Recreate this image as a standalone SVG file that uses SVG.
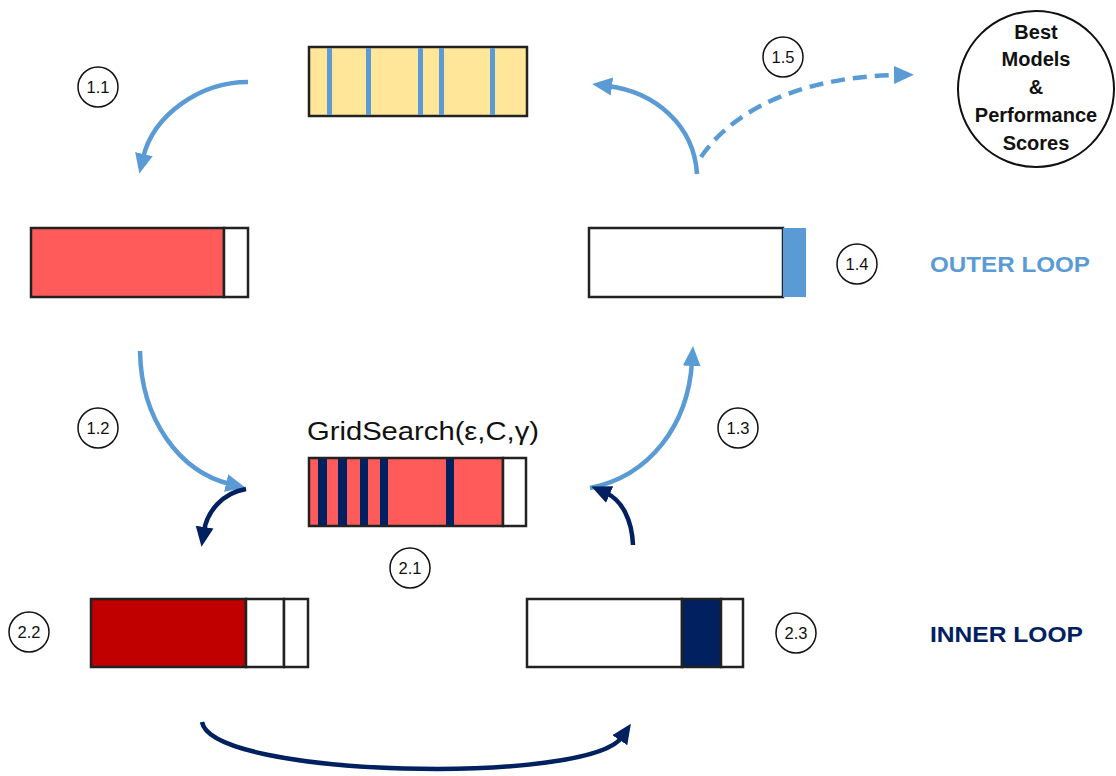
<svg xmlns="http://www.w3.org/2000/svg" width="1116" height="776" viewBox="0 0 1116 776">
<style>
.box{stroke:#222;stroke-width:2.5}
.lbl circle{fill:#fff;stroke:#111;stroke-width:1.5}
.lbl text{font-family:"Liberation Sans",Arial,sans-serif;font-size:16.5px;fill:#111;text-anchor:middle}
.lb{fill:none;stroke:#5B9BD5;stroke-width:4.5}
.nv{fill:none;stroke:#002060;stroke-width:4.5}
.big{font-family:"Liberation Sans",Arial,sans-serif;font-weight:bold;font-size:20px;fill:#111;text-anchor:middle}
</style>
<defs>
<marker id="ab" markerUnits="userSpaceOnUse" markerWidth="22" markerHeight="22" viewBox="0 0 22 22" refX="4" refY="11" orient="auto"><path d="M0,2 L20,11 L0,20 Z" fill="#5B9BD5"/></marker>
<marker id="an" markerUnits="userSpaceOnUse" markerWidth="22" markerHeight="22" viewBox="0 0 22 22" refX="4" refY="11" orient="auto"><path d="M0,2 L20,11 L0,20 Z" fill="#002060"/></marker>
</defs>
<rect width="1116" height="776" fill="#fff"/>

<g id="node-top">
<rect x="309" y="47" width="218" height="69" fill="#FFE699" class="box"/>
<g fill="#5B9BD5"><rect x="327" y="48" width="5" height="67"/><rect x="366" y="48" width="5" height="67"/><rect x="418" y="48" width="5" height="67"/><rect x="439" y="48" width="5" height="67"/><rect x="490" y="48" width="5" height="67"/></g>
</g>

<g id="node-left">
<rect x="31" y="228" width="193" height="69" fill="#FF5B5B" class="box"/>
<rect x="224" y="228" width="24" height="69" fill="#fff" class="box"/>
</g>

<g id="node-right">
<rect x="589" y="228" width="194" height="69" fill="#fff" class="box"/>
<rect x="783" y="228" width="23" height="69" fill="#5B9BD5"/>
</g>

<g id="node-grid">
<text x="307" y="440" font-family="Liberation Sans,Arial,sans-serif" font-size="25" fill="#111" textLength="232" lengthAdjust="spacingAndGlyphs">GridSearch(ε,C,γ)</text>
<rect x="309" y="458" width="194" height="68" fill="#FF5B5B" class="box"/>
<rect x="503" y="458" width="23" height="68" fill="#fff" class="box"/>
<g fill="#002060"><rect x="318" y="459" width="9" height="66"/><rect x="338" y="459" width="9" height="66"/><rect x="360" y="459" width="8" height="66"/><rect x="380" y="459" width="8" height="66"/><rect x="446" y="459" width="8" height="66"/></g>
</g>

<g id="node-inner-left">
<rect x="91" y="599" width="155" height="68" fill="#C00000" class="box"/>
<rect x="246" y="599" width="38" height="68" fill="#fff" class="box"/>
<rect x="284" y="599" width="24" height="68" fill="#fff" class="box"/>
</g>

<g id="node-inner-right">
<rect x="527" y="599" width="155" height="68" fill="#fff" class="box"/>
<rect x="682" y="599" width="39" height="68" fill="#002060" class="box"/>
<rect x="721" y="599" width="22" height="68" fill="#fff" class="box"/>
</g>

<g id="node-best">
<circle cx="1036" cy="89" r="78" fill="#fff" stroke="#111" stroke-width="2"/>
<text class="big" x="1036" y="39">Best</text>
<text class="big" x="1036" y="66">Models</text>
<text class="big" x="1036" y="94">&amp;</text>
<text class="big" x="1036" y="122">Performance</text>
<text class="big" x="1036" y="150">Scores</text>
</g>

<g id="labels" class="lbl">
<g id="l11"><circle cx="98" cy="87" r="20"/><text x="98" y="93">1.1</text></g>
<g id="l12"><circle cx="98" cy="428" r="20"/><text x="98" y="434">1.2</text></g>
<g id="l13"><circle cx="738" cy="428" r="20"/><text x="738" y="434">1.3</text></g>
<g id="l14"><circle cx="857" cy="264" r="20"/><text x="857" y="270">1.4</text></g>
<g id="l15"><circle cx="783" cy="57" r="20"/><text x="783" y="63">1.5</text></g>
<g id="l21"><circle cx="410" cy="568" r="20"/><text x="410" y="574">2.1</text></g>
<g id="l22"><circle cx="29" cy="632" r="20"/><text x="29" y="638">2.2</text></g>
<g id="l23"><circle cx="796" cy="633" r="20"/><text x="796" y="639">2.3</text></g>
</g>

<g id="loop-titles" font-family="Liberation Sans,Arial,sans-serif" font-weight="bold" font-size="22">
<text x="930" y="272" fill="#5B9BD5" textLength="160" lengthAdjust="spacingAndGlyphs">OUTER LOOP</text>
<text x="930" y="642" fill="#002060" textLength="153" lengthAdjust="spacingAndGlyphs">INNER LOOP</text>
</g>

<g id="connectors">
<path class="lb" d="M248,82 C200,82 153,115 143,158" marker-end="url(#ab)"/>
<path class="lb" d="M140,351 C141,420 180,472 230,484" marker-end="url(#ab)"/>
<path class="nv" d="M246,489 C222,493 207,512 204,531" marker-end="url(#an)"/>
<path class="lb" d="M590,488 C650,476 688,425 692,362" marker-end="url(#ab)"/>
<path class="nv" d="M633,545 C632,520 622,500 606,493" marker-end="url(#an)"/>
<path class="lb" d="M697,174 C694,125 655,92 608,86" marker-end="url(#ab)"/>
<path class="lb" d="M701,157 C740,100 820,76 898,75" stroke-dasharray="14,8" marker-end="url(#ab)"/>
<path class="nv" d="M202,722 C212,778 590,785 622,737" marker-end="url(#an)"/>
</g>
</svg>
